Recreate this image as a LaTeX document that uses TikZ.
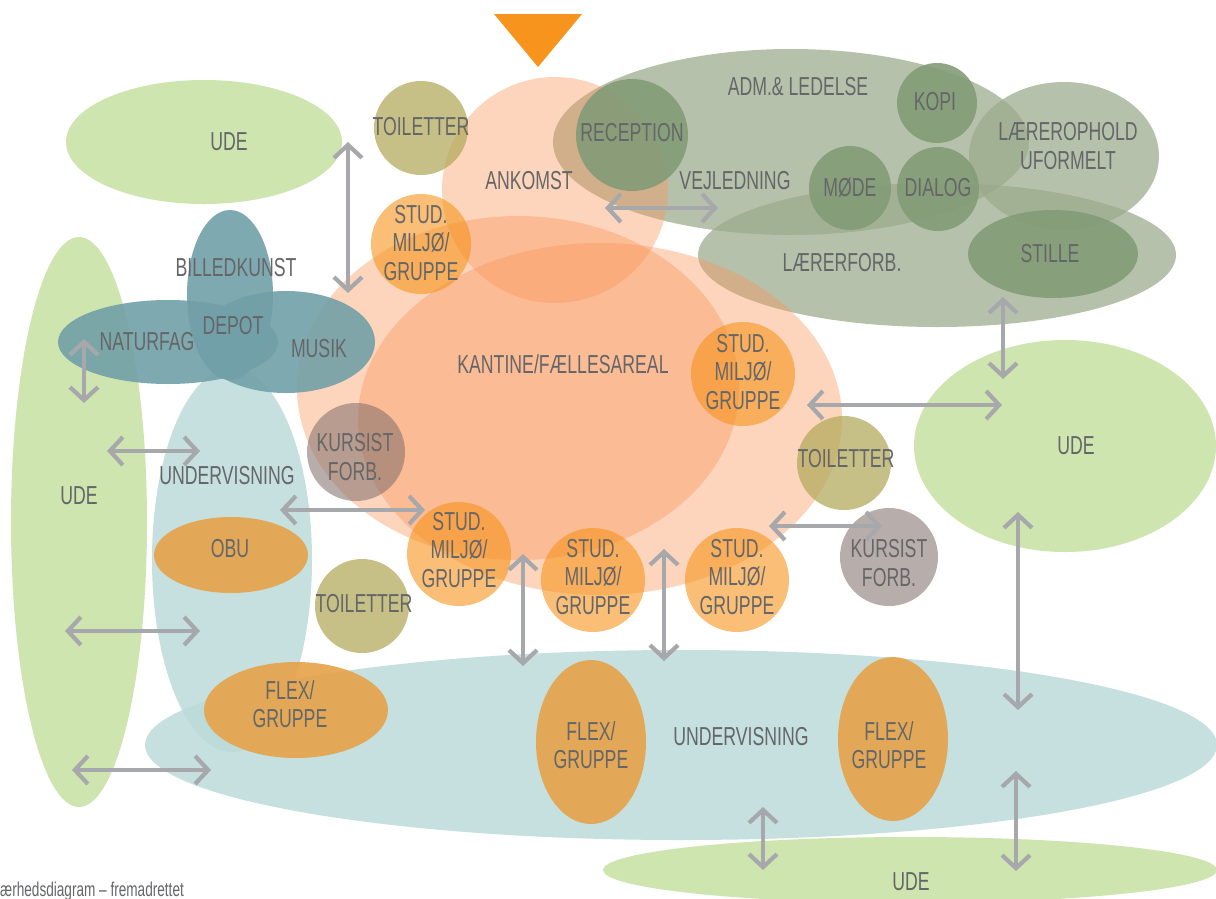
\documentclass[tikz,border=0pt]{standalone}
\usepackage{fontspec}
\setmainfont{Liberation Sans}[FakeStretch=0.68]
\usetikzlibrary{arrows.meta,shapes.geometric}
\definecolor{ude}{HTML}{CEE5AF}
\definecolor{tealL}{HTML}{BBDBD9}
\definecolor{flexor}{HTML}{E6A44C}
\definecolor{admg}{HTML}{9BAA8C}
\definecolor{dkg}{HTML}{849C77}
\definecolor{peach}{HTML}{FA9658}
\definecolor{tealD}{HTML}{72A0A8}
\definecolor{studor}{HTML}{F7941D}
\definecolor{kurs}{HTML}{82716D}
\definecolor{olive}{HTML}{B5AB5E}
\definecolor{arrgray}{HTML}{A7A8AC}
\definecolor{txt}{HTML}{656668}
\definecolor{tri}{HTML}{F7941D}
\begin{document}
\begin{tikzpicture}[x=1pt,y=-1pt,
  area/.style={ellipse, inner sep=0pt, outer sep=0pt, draw=none},
  disc/.style={circle, inner sep=0pt, outer sep=0pt, draw=none},
  udearea/.style={area, fill=ude},
  undarea/.style={area, fill=tealL, fill opacity=0.85},
  flexarea/.style={area, fill=flexor, fill opacity=0.92},
  admarea/.style={area, fill=admg, fill opacity=0.72},
  dkarea/.style={area, fill=dkg, fill opacity=0.9},
  peacharea/.style={area, fill=peach, fill opacity=0.4},
  tealarea/.style={area, fill=tealD, fill opacity=0.9},
  studdisc/.style={disc, fill=studor, fill opacity=0.6, minimum size=104pt},
  kursdisc/.style={disc, fill=kurs, fill opacity=0.57, minimum size=98pt},
  toildisc/.style={disc, fill=olive, fill opacity=0.75, minimum size=94pt},
  lbl/.style={text=txt, font=\fontsize{26}{28.5}\selectfont, align=center, inner sep=0pt},
  arr/.style={draw=arrgray, line width=4.2pt,
    {Straight Barb[length=13pt,width=28pt]}-{Straight Barb[length=13pt,width=28pt]}},
]
\useasboundingbox (0,0) rectangle (1216,898);
\fill[white] (0,0) rectangle (1216,898);

% outdoor areas
\node[udearea, minimum width=276pt, minimum height=124pt] (udeTL) at (204,142) {};
\node[udearea, minimum width=136pt, minimum height=570pt] (udeL) at (79,522) {};
\node[udearea, minimum width=302pt, minimum height=212pt] (udeR) at (1065,446) {};
\node[udearea, minimum width=614pt, minimum height=66pt] (udeB) at (910,870) {};

% teaching areas
\node[undarea, minimum width=160pt, minimum height=384pt] (undL) at (232,560) {};
\node[undarea, minimum width=1072pt, minimum height=190pt] (undB) at (681,745) {};

% OBU and flex
\node[flexarea, minimum width=154pt, minimum height=76pt] (obu) at (231,555) {};
\node[flexarea, minimum width=184pt, minimum height=96pt] (flexL) at (296,710) {};
\node[flexarea, minimum width=110pt, minimum height=164pt] (flexM) at (591,742) {};
\node[flexarea, minimum width=110pt, minimum height=164pt] (flexR) at (893,739) {};

% administration
\node[admarea, minimum width=476pt, minimum height=186pt] (adm) at (791,142) {};
\node[admarea, minimum width=478pt, minimum height=144pt] (lforb) at (937,255) {};
\node[admarea, minimum width=190pt, minimum height=148pt] (lophold) at (1064,156) {};

% arrival and canteen
\node[peacharea, minimum width=226pt, minimum height=226pt] (ankomst) at (555,190) {};
\node[peacharea, minimum width=442pt, minimum height=344pt] (kantA) at (518,388) {};
\node[peacharea, minimum width=484pt, minimum height=352pt] (kantB) at (600,419) {};

% dark green rooms
\node[dkarea, minimum width=112pt, minimum height=112pt] (recep) at (632,135) {};
\node[dkarea, minimum width=80pt, minimum height=80pt] (kopi) at (937,103) {};
\node[dkarea, minimum width=82pt, minimum height=84pt] (mode) at (850,188) {};
\node[dkarea, minimum width=82pt, minimum height=84pt] (dialog) at (938,189) {};
\node[dkarea, minimum width=170pt, minimum height=88pt] (stille) at (1053,254) {};

% art / science / music
\node[tealarea, minimum width=86pt, minimum height=170pt] (billed) at (230,295) {};
\node[tealarea, minimum width=220pt, minimum height=84pt] (naturfag) at (168,342) {};
\node[tealarea, minimum width=178pt, minimum height=102pt] (musik) at (286,342) {};

% student circles
\node[studdisc, minimum size=100pt] (stud1) at (421,244) {};
\node[studdisc] (stud2) at (743,374) {};
\node[studdisc] (stud3) at (459,554) {};
\node[studdisc] (stud4) at (593,580) {};
\node[studdisc] (stud5) at (737,580) {};

% course participants
\node[kursdisc] (kursL) at (356,452) {};
\node[kursdisc] (kursR) at (889,557) {};

% toilets
\node[toildisc] (toilT) at (421,128) {};
\node[toildisc] (toilR) at (844,463) {};
\node[toildisc] (toilB) at (362,606) {};

% entrance triangle
\fill[tri] (494,14) -- (582,14) -- (538,67) -- cycle;

% arrow end points
\coordinate (a1s) at (348,142);  \coordinate (a1e) at (348,293);
\coordinate (a2s) at (605,208);  \coordinate (a2e) at (718,208);
\coordinate (a3s) at (84,339);   \coordinate (a3e) at (84,403);
\coordinate (a4s) at (107,451);  \coordinate (a4e) at (200,451);
\coordinate (a5s) at (280,510);  \coordinate (a5e) at (425,510);
\coordinate (a6s) at (65,631);   \coordinate (a6e) at (200,631);
\coordinate (a7s) at (72,770);   \coordinate (a7e) at (211,770);
\coordinate (a8s) at (523,554);  \coordinate (a8e) at (523,666);
\coordinate (a9s) at (664,549);  \coordinate (a9e) at (664,661);
\coordinate (a10s) at (807,405); \coordinate (a10e) at (1002,405);
\coordinate (a11s) at (769,526); \coordinate (a11e) at (882,526);
\coordinate (a12s) at (1003,297);\coordinate (a12e) at (1003,379);
\coordinate (a13s) at (1018,512);\coordinate (a13e) at (1018,710);
\coordinate (a14s) at (763,807); \coordinate (a14e) at (763,870);
\coordinate (a15s) at (1016,771);\coordinate (a15e) at (1016,871);

\draw[arr] (a1s) -- (a1e);
\draw[arr] (a2s) -- (a2e);
\draw[arr] (a3s) -- (a3e);
\draw[arr] (a4s) -- (a4e);
\draw[arr] (a5s) -- (a5e);
\draw[arr] (a6s) -- (a6e);
\draw[arr] (a7s) -- (a7e);
\draw[arr] (a8s) -- (a8e);
\draw[arr] (a9s) -- (a9e);
\draw[arr] (a10s) -- (a10e);
\draw[arr] (a11s) -- (a11e);
\draw[arr] (a12s) -- (a12e);
\draw[arr] (a13s) -- (a13e);
\draw[arr] (a14s) -- (a14e);
\draw[arr] (a15s) -- (a15e);

% labels
\node[lbl] (tUdeTL) at (229,142) {UDE};
\node[lbl] (tToilT) at (421,127) {TOILETTER};
\node[lbl] (tAnk) at (529,181) {ANKOMST};
\node[lbl] (tAdm) at (798,87) {ADM.\& LEDELSE};
\node[lbl] (tRec) at (632,133) {RECEPTION};
\node[lbl] (tKopi) at (935,102) {KOPI};
\node[lbl] (tLoph) at (1068,146) {LÆREROPHOLD\\UFORMELT};
\node[lbl] (tVejl) at (735,181) {VEJLEDNING};
\node[lbl] (tMode) at (850,188) {MØDE};
\node[lbl] (tDial) at (938,188) {DIALOG};
\node[lbl] (tStil) at (1050,254) {STILLE};
\node[lbl] (tLforb) at (842,263) {LÆRERFORB.};
\node[lbl] (tS1) at (421,243) {STUD.\\MILJØ/\\GRUPPE};
\node[lbl] (tS2) at (743,372) {STUD.\\MILJØ/\\GRUPPE};
\node[lbl] (tS3) at (459,550) {STUD.\\MILJØ/\\GRUPPE};
\node[lbl] (tS4) at (593,577) {STUD.\\MILJØ/\\GRUPPE};
\node[lbl] (tS5) at (737,577) {STUD.\\MILJØ/\\GRUPPE};
\node[lbl] (tBill) at (236,268) {BILLEDKUNST};
\node[lbl] (tNat) at (147,342) {NATURFAG};
\node[lbl] (tDep) at (233,326) {DEPOT};
\node[lbl] (tMus) at (319,349) {MUSIK};
\node[lbl] (tKant) at (563,364) {KANTINE/FÆLLESAREAL};
\node[lbl] (tUdeL) at (79,496) {UDE};
\node[lbl] (tUndL) at (227,476) {UNDERVISNING};
\node[lbl] (tKursL) at (355,457) {KURSIST\\FORB.};
\node[lbl] (tToilR) at (846,459) {TOILETTER};
\node[lbl] (tUdeR) at (1076,446) {UDE};
\node[lbl] (tKursR) at (889,563) {KURSIST\\FORB.};
\node[lbl] (tObu) at (230,549) {OBU};
\node[lbl] (tToilB) at (364,604) {TOILETTER};
\node[lbl] (tFlexL) at (290,704) {FLEX/\\GRUPPE};
\node[lbl] (tFlexM) at (591,745) {FLEX/\\GRUPPE};
\node[lbl] (tUndB) at (741,737) {UNDERVISNING};
\node[lbl] (tFlexR) at (889,745) {FLEX/\\GRUPPE};
\node[lbl] (tUdeB) at (911,882) {UDE};
\node[text=txt, font=\fontsize{20}{22}\selectfont, inner sep=0pt, anchor=base west] (tFoot) at (0,896) {ærhedsdiagram – fremadrettet};
\end{tikzpicture}
\end{document}
